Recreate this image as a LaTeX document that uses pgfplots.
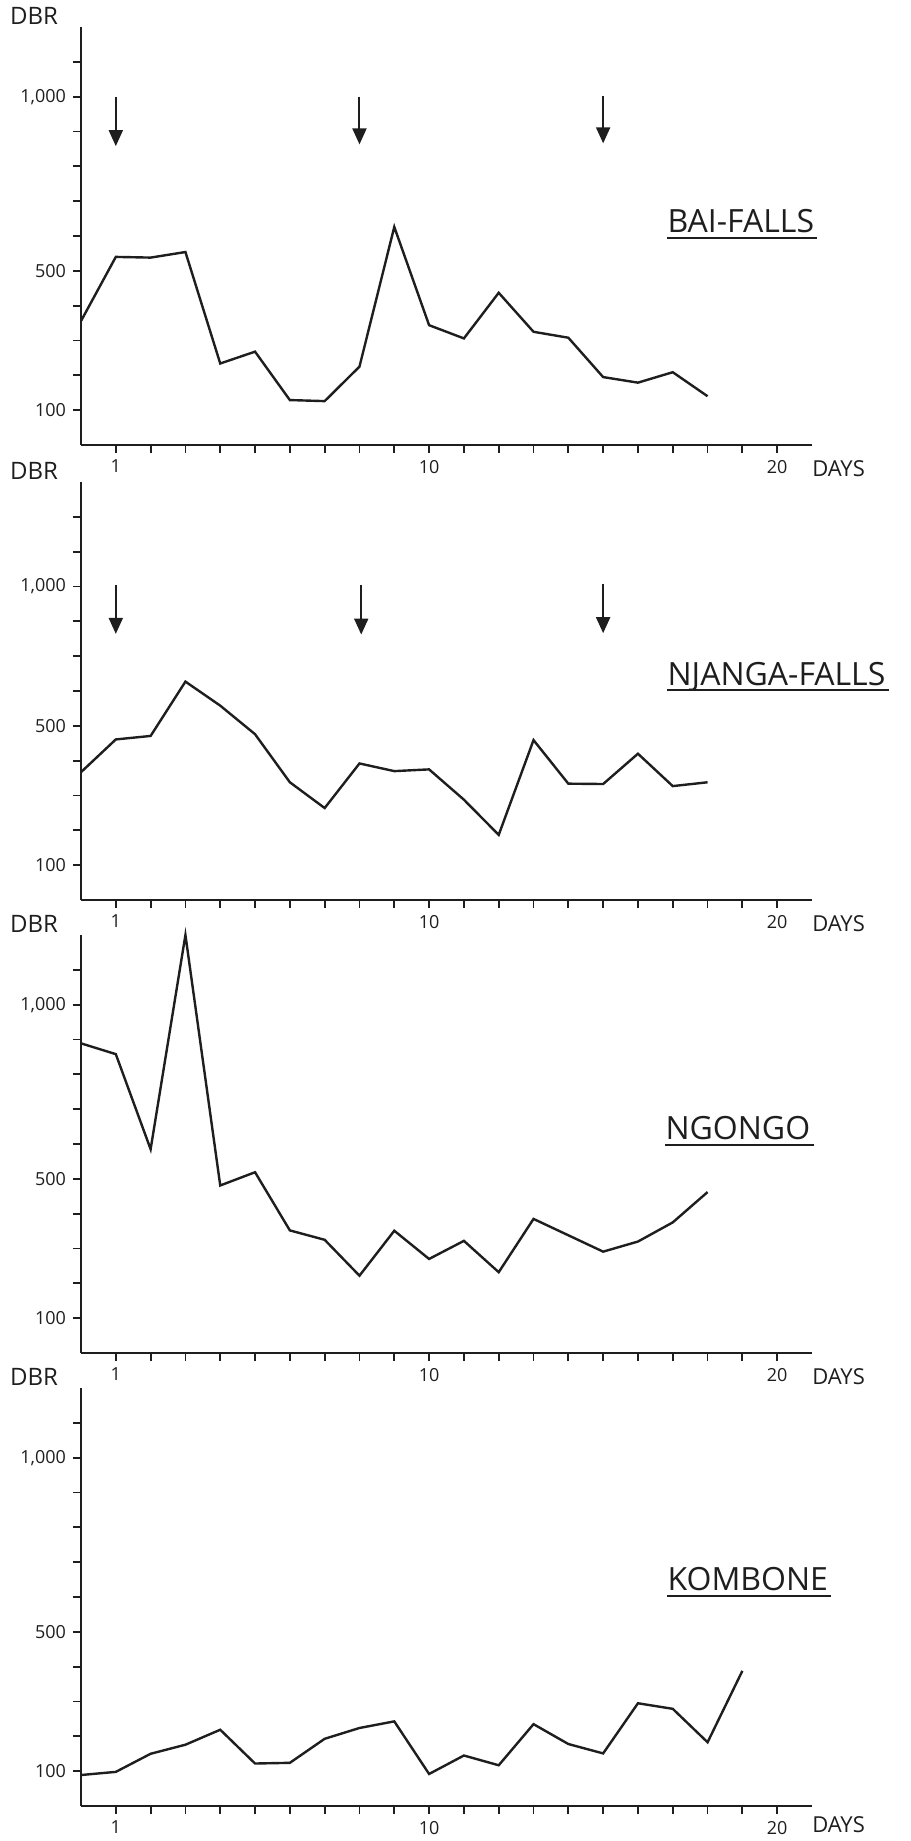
\documentclass[border=0pt]{standalone}
\usepackage{fontspec}
\setmainfont{Open Sans}
\usepackage{pgfplots}
\pgfplotsset{compat=1.18}
\usetikzlibrary{arrows.meta}
\definecolor{ink}{HTML}{1E1E1E}

\pgfplotsset{
  panel/.style={
    scale only axis, width=365.5pt, height=209pt,
    xmin=0, xmax=21, ymin=0, ymax=1200,
    axis x line*=bottom, axis y line*=left,
    axis line style={ink, line width=1.1pt},
    tick align=outside,
    major tick length=4pt, minor tick length=4pt,
    tick style={ink, line width=0.9pt},
    xtick={1,10,20}, xticklabels={1,10,20},
    minor xtick={2,3,4,5,6,7,8,9,11,12,13,14,15,16,17,18,19},
    ytick={100,500,1000}, yticklabels={100,500,{1,000}},
    minor ytick={200,300,400,600,700,800,900,1100},
    tick label style={font=\fontsize{9}{9}\selectfont, text=ink},
    clip=false,
    anchor=south west,
  },
  series/.style={ink, line width=1.2pt, mark=none},
  cue/.style={ink, line width=1pt, -{Triangle[length=8pt,width=7pt]}},
}
\tikzset{
  dbr/.style={font=\fontsize{12}{12}\selectfont, text=ink, xshift=-23.5pt, yshift=5.5pt},
  days/.style={font=\fontsize{11}{11}\selectfont, text=ink, anchor=west, xshift=14pt, yshift=-11.75pt},
  ttl/.style={font=\fontsize{16}{16}\selectfont, text=ink, anchor=base west, inner sep=0pt},
}

\begin{document}
\begin{tikzpicture}
\useasboundingbox (0,0) rectangle (455pt,-920.5pt);

% ---------- BAI-FALLS ----------
\begin{axis}[panel, at={(40.5pt,-222.5pt)}]
\addplot[series] coordinates {(0,356) (1,540) (2,538) (3,554) (4,234) (5,268) (6,129) (7,126) (8,225) (9,626) (10,344) (11,306) (12,437) (13,325) (14,308) (15,195) (16,179) (17,209) (18,140)};
\addplot[cue] coordinates {(1,1000) (1,858)};
\addplot[cue] coordinates {(8,1000) (8,863)};
\addplot[cue] coordinates {(15,1002) (15,866)};
\node[dbr] at (rel axis cs:0,1) {DBR};
\node[days] at (axis cs:20,0) {DAYS};
\node[ttl] (T1) at (axis cs:16.84,609) {BAI-FALLS};
\draw[ink, line width=1pt] ([yshift=-2.5pt]T1.base west) -- ([yshift=-2.5pt,xshift=1.5pt]T1.base east);
\end{axis}

% ---------- NJANGA-FALLS ----------
\begin{axis}[panel, at={(40.5pt,-450pt)},
  ytick={100,500,900}, yticklabels={100,500,{1,000}},
  minor ytick={200,300,400,600,700,800,1000,1100}]
\addplot[series] coordinates {(0,367) (1,461) (2,471) (3,627) (4,558) (5,476) (6,338) (7,264) (8,392) (9,370) (10,375) (11,288) (12,187) (13,459) (14,334) (15,333) (16,420) (17,327) (18,338)};
\addplot[cue] coordinates {(1,905) (1,764)};
\addplot[cue] coordinates {(8.05,905) (8.05,762)};
\addplot[cue] coordinates {(15,908) (15,766)};
\node[dbr] at (rel axis cs:0,1) {DBR};
\node[days] at (axis cs:20,0) {DAYS};
\node[ttl] (T2) at (axis cs:16.84,616) {NJANGA-FALLS};
\draw[ink, line width=1pt] ([yshift=-2.5pt]T2.base west) -- ([yshift=-2.5pt,xshift=1.5pt]T2.base east);
\end{axis}

% ---------- NGONGO ----------
\begin{axis}[panel, at={(40.5pt,-676.5pt)}]
\addplot[series] coordinates {(0,889) (1,858) (2,585) (3,1200) (4,481) (5,519) (6,352) (7,325) (8,222) (9,351) (10,270) (11,322) (12,232) (13,385) (15,291) (16,320) (17,375) (18,462)};
\node[dbr] at (rel axis cs:0,1) {DBR};
\node[days] at (axis cs:20,0) {DAYS};
\node[ttl] (T3) at (axis cs:16.78,612) {NGONGO};
\draw[ink, line width=1pt] ([yshift=-2.5pt]T3.base west) -- ([yshift=-2.5pt,xshift=1.5pt]T3.base east);
\end{axis}

% ---------- KOMBONE ----------
\begin{axis}[panel, at={(40.5pt,-903pt)}]
\addplot[series] coordinates {(0,89) (1,98) (2,150) (3,176) (4,219) (5,122) (6,124) (7,193) (8,224) (9,243) (10,92) (11,145) (12,117) (13,235) (14,178) (15,151) (16,295) (17,279) (18,183) (19,388)};
\node[dbr] at (rel axis cs:0,1) {DBR};
\node[days, yshift=2.5pt] at (axis cs:20,0) {DAYS};
\node[ttl] (T4) at (axis cs:16.84,618) {KOMBONE};
\draw[ink, line width=1pt] ([yshift=-2.5pt]T4.base west) -- ([yshift=-2.5pt,xshift=1.5pt]T4.base east);
\end{axis}
\end{tikzpicture}
\end{document}
